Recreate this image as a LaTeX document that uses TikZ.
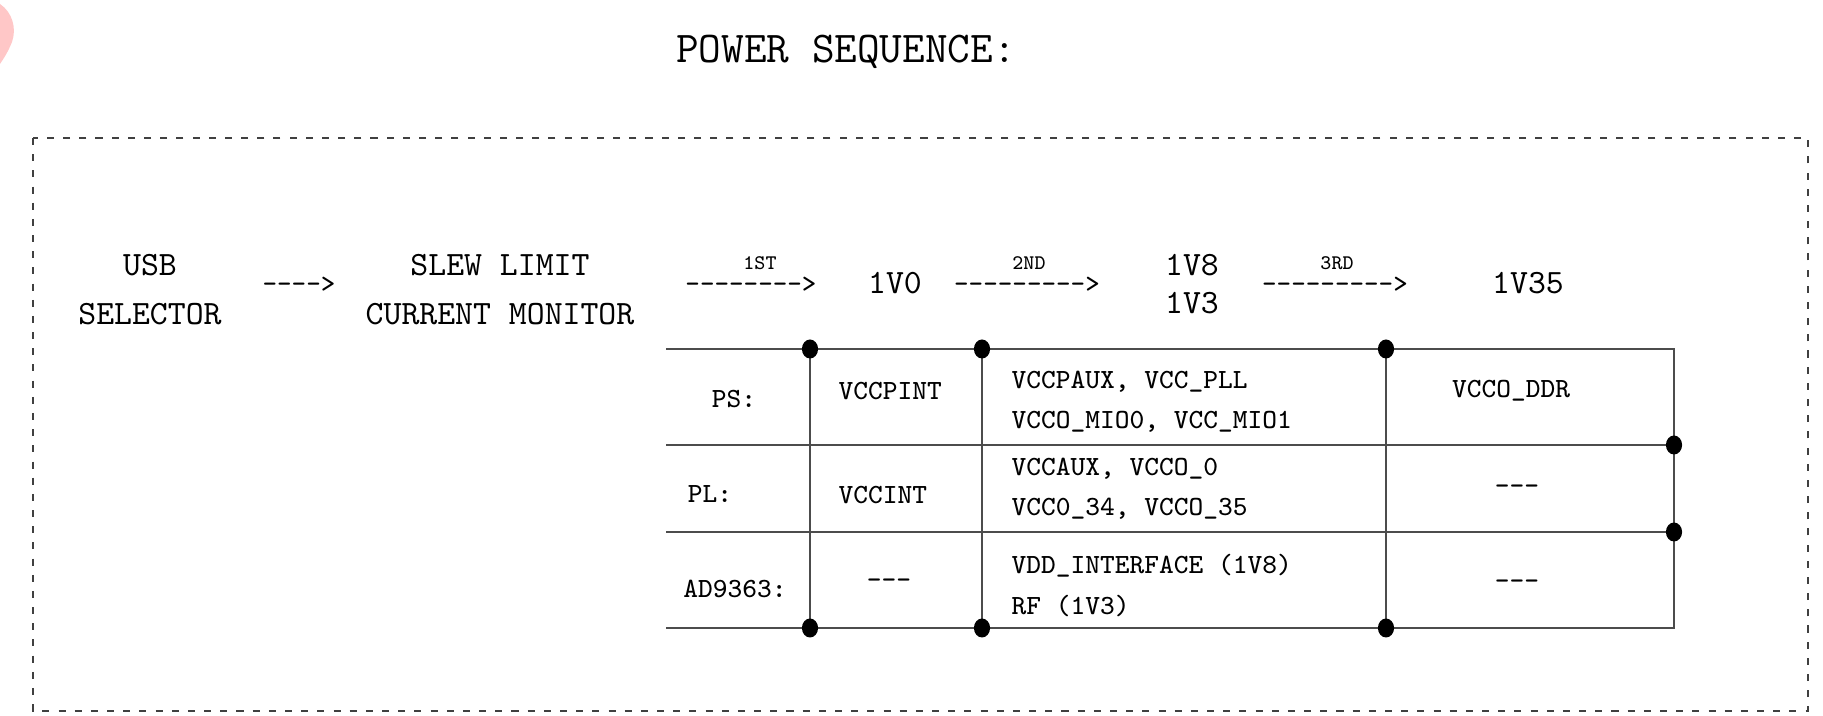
\documentclass[tikz,border=0pt]{standalone}
\usepackage{tikz}
\tikzset{
  outline/.style={draw=black!75, line width=0.4pt, dash pattern=on 2pt off 2.6pt},
  tableline/.style={draw=black!70, line width=0.45pt},
  junction/.style={fill=black},
  heading/.style={font=\ttfamily\fontsize{12.5}{14}\selectfont, inner sep=0pt},
  stage/.style={font=\ttfamily\fontsize{9.7}{13.7}\selectfont, align=center, inner sep=0pt},
  rail/.style={font=\ttfamily\fontsize{9.7}{10.8}\selectfont, align=center, inner sep=0pt},
  flow/.style={font=\ttfamily\fontsize{7.8}{9}\selectfont, inner sep=0pt},
  order/.style={font=\ttfamily\fontsize{5.9}{7}\selectfont, inner sep=0pt},
  cell/.style={font=\ttfamily\fontsize{7.9}{11.4}\selectfont, align=left, inner sep=0pt},
}
\begin{document}
\begin{tikzpicture}[x=0.01cm, y=-0.01cm]
\useasboundingbox (0,0) rectangle (1823,716);
\fill[red!22] (0,4) .. controls (12,12) and (17,28) .. (12,42) .. controls (8,52) and (4,58) .. (0,64) -- cycle;
\node[heading, anchor=base] (title) at (846,63) {POWER SEQUENCE:};
\draw[outline] (33,138) rectangle (1808,711);
% stages and order
\node[stage, anchor=north] (usb) at (150,254) {USB\\SELECTOR};
\node[flow, anchor=base] (go0) at (299,293) {---->};
\node[stage, anchor=north] (slew) at (500,254) {SLEW LIMIT\\CURRENT MONITOR};
\node[order, anchor=base] (first) at (760,270) {1ST};
\node[flow, anchor=base] (go1) at (751,293) {-------->};
\node[stage, anchor=base] (v10) at (895,294) {1V0};
\node[order, anchor=base] (second) at (1029,270) {2ND};
\node[flow, anchor=base] (go2) at (1027,293) {--------->};
\node[rail, anchor=north] (v18) at (1192,254) {1V8\\1V3};
\node[order, anchor=base] (third) at (1337,270) {3RD};
\node[flow, anchor=base] (go3) at (1335,293) {--------->};
\node[stage, anchor=base] (v135) at (1528,294) {1V35};
% table
\coordinate (a0) at (666,349); \coordinate (a1) at (810,349); \coordinate (a2) at (982,349);
\coordinate (a3) at (1386,349); \coordinate (a4) at (1674,349);
\coordinate (b0) at (666,445); \coordinate (b4) at (1674,445);
\coordinate (c0) at (666,532); \coordinate (c4) at (1674,532);
\coordinate (d0) at (666,628); \coordinate (d1) at (810,628); \coordinate (d2) at (982,628);
\coordinate (d3) at (1386,628); \coordinate (d4) at (1674,628);
\draw[tableline] (a0) -- (a4) -- (d4) -- (d0);
\draw[tableline] (b0) -- (b4);
\draw[tableline] (c0) -- (c4);
\draw[tableline] (a1) -- (d1);
\draw[tableline] (a2) -- (d2);
\draw[tableline] (a3) -- (d3);
\foreach \j in {a1,a2,a3,d1,d2,d3,b4,c4}
  \fill[junction] (\j) ellipse (2.3pt and 2.7pt);
\node[cell, anchor=base] (ps) at (734,408) {PS:};
\node[cell, anchor=base] (pl) at (710,503) {PL:};
\node[cell, anchor=base] (ad) at (735,598) {AD9363:};
\node[cell, anchor=base west] (ps1) at (838,400) {VCCPINT};
\node[cell, anchor=base west] (pl1) at (838,504) {VCCINT};
\node[cell, anchor=base] (ad1) at (889,589) {---};
\node[cell, anchor=north west] (ps2) at (1011,370) {VCCPAUX, VCC\_PLL\\VCCO\_MIO0, VCC\_MIO1};
\node[cell, anchor=north west] (pl2) at (1011,457) {VCCAUX, VCCO\_0\\VCC0\_34, VCCO\_35};
\node[cell, anchor=north west] (ad2) at (1011,554) {VDD\_INTERFACE (1V8)\\RF (1V3)};
\node[cell, anchor=base] (ps3) at (1511,398) {VCCO\_DDR};
\node[cell, anchor=base] (pl3) at (1517,495) {---};
\node[cell, anchor=base] (ad3) at (1517,590) {---};
\end{tikzpicture}
\end{document}
